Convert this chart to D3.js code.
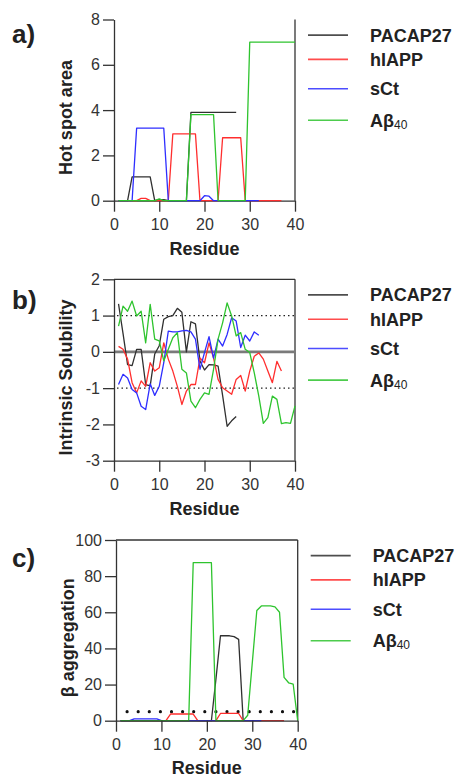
<!DOCTYPE html>
<html>
<head>
<meta charset="utf-8">
<script src="https://cdn.jsdelivr.net/npm/d3@7"></script>
<style>
body { margin: 0; background: #fff; }
svg { display: block; font-family: "Liberation Sans", Arial, sans-serif; }
.tick text { font-family: "Liberation Sans Narrow", "Liberation Sans", Arial, sans-serif; font-size: 16px; fill: #333; }
.tick line, .domain { stroke: #333; stroke-width: 1.3; }
</style>
</head>
<body>
<svg id="chart" width="461" height="777"></svg>
<script>
// series shared by all three panels
var seriesNames = ["PACAP27", "hIAPP", "sCt", "Aβ40"];
var seriesColors = ["#303030", "#ff2e2e", "#2e2eff", "#2ec42e"];

var xTicks = [0, 10, 20, 30, 40];

// a) hot spot area, residue 1..n
var hotPACAP = [0, 0, 0, 1.05, 1.05, 1.05, 1.05, 1.05, 0, 0.05, 0.05, 0, 0, 0, 0, 0,
  3.9, 3.9, 3.9, 3.9, 3.9, 3.9, 3.9, 3.9, 3.9, 3.9, 3.9];
var hotIAPP = [0, 0, 0, 0, 0, 0.1, 0.1, 0, 0, 0, 0, 0, 2.95, 2.95, 2.95, 2.95, 2.95, 2.95,
  0, 0, 0, 0, 0, 2.78, 2.78, 2.78, 2.78, 2.78, 0, 0, 0, 0, 0, 0, 0, 0, 0];
var hotSCT = [0, 0, 0, 0, 3.2, 3.2, 3.2, 3.2, 3.2, 3.2, 3.2, 0, 0, 0, 0, 0, 0, 0, 0,
  0.22, 0.2, 0, 0, 0, 0, 0, 0, 0, 0, 0, 0, 0];
var hotABeta = [0, 0, 0, 0, 0, 0, 0, 0, 0, 0.08, 0, 0, 0, 0, 0, 0, 3.8, 3.8, 3.8, 3.8, 3.8, 3.8,
  0, 0, 0, 0, 0, 0, 0, 7, 7, 7, 7, 7, 7, 7, 7, 7, 7, 7];
var hotTicks = [0, 2, 4, 6, 8];

// b) intrinsic solubility
var solPACAP = [1.32, 0.5, -0.35, -0.38, 0.07, 0.07, -0.9, -0.94, -0.06, 0.17,
  0.9, 0.97, 1.0, 1.2, 1.09, 0.0, 0.83, 0.77, -0.25, -0.5,
  -0.35, -0.36, -0.39, -1.2, -2.05, -1.9, -1.78];
var solIAPP = [0.15, 0.07, -0.2, -0.85, -1.13, -0.8, -0.95, -0.3, -0.53, -0.44,
  0.25, -0.2, -0.53, -0.95, -1.45, -1.08, -0.9, -0.9, -0.17, -0.3,
  0.25, -0.17, -0.76, -0.99, -1.08, -1.17, -0.76, -0.65, -1.08, -0.53,
  -0.12, -0.03, -0.2, -0.53, -0.85, -0.26, -0.53];
var solSCT = [-0.9, -0.62, -0.72, -1.04, -1.13, -1.5, -1.59, -0.88, -1.2, -0.95,
  -0.3, 0.57, 0.55, 0.55, 0.58, 0.59, 0.55, 0.35, -0.48, -0.02,
  0.42, -0.17, 0.35, 0.16, 0.48, 0.94, 0.85, 0.12, 0.46, 0.3,
  0.55, 0.46];
var solABeta = [0.71, 1.26, 1.12, 1.4, 0.99, 1.12, 0.25, 1.31, 0.35, 0.3,
  -0.25, 0.07, 0.39, 0.53, -0.48, -0.58, -1.36, -1.54, -1.31, -1.13,
  -1.17, -0.48, 0.35, 0.8, 1.35, 0.99, 0.44, 0.53, 0.07, -0.02,
  -0.58, -1.22, -1.97, -1.81, -1.22, -1.31, -1.98, -1.95, -1.97, -1.49];
var solTicks = [-3, -2, -1, 0, 1, 2];
var solLimits = [-1, 1];

// c) beta aggregation
var aggPACAP = [0, 0, 0, 0, 0, 0, 0, 0, 0, 0, 0, 0, 0, 0, 0, 0, 0, 0, 0, 0, 0,
  23, 47, 47, 47, 46.5, 45, 0];
var aggIAPP = [0, 0, 0, 0, 0, 0, 0, 0, 0, 0, 0, 3.7, 3.7, 3.7, 3.7, 3.7, 3.7,
  0, 0, 0, 0, 0, 4, 4, 4, 4, 4, 0, 0, 0, 0, 0, 0, 0, 0, 0, 0];
var aggSCT = [0, 0, 0, 1, 1, 1, 1, 1, 1, 0, 0, 0, 0, 0, 0, 0,
  0, 0, 0, 0, 0, 0, 0, 0, 0, 0, 0, 0, 0, 0, 0, 0];
var aggABeta = [0, 0, 0, 0, 0, 0, 0, 0, 0, 0, 0, 0, 0, 0, 0, 0,
  87.5, 87.5, 87.5, 87.5, 87.5, 0, 0, 0, 0, 0, 0, 0,
  3, 32, 61, 63.5, 63.5, 63.5, 63, 60, 24, 21, 20.3, 0];
var aggTicks = [0, 20, 40, 60, 80, 100];
var aggThreshold = 5;

var svg = d3.select("#chart");
var legendOffsets = [15.6, 39.9, 69.2, 100.8];

function drawPanel(p) {
  var x = d3.scaleLinear().domain([0, 40]).range([p.left, p.right]);
  var y = d3.scaleLinear().domain(p.yDomain).range([p.bottom, p.top]);
  var g = svg.append("g");

  // frame
  if (p.frameTop) {
    g.append("line").attr("x1", x(0)).attr("x2", x(40))
      .attr("y1", y(p.yDomain[1])).attr("y2", y(p.yDomain[1]))
      .attr("stroke", "#333").attr("stroke-width", 1.3);
  }
  g.append("line").attr("x1", x(40)).attr("x2", x(40))
    .attr("y1", y(p.yDomain[0])).attr("y2", y(p.yDomain[1]))
    .attr("stroke", "#333").attr("stroke-width", 1.3);

  if (p.extras) p.extras(g, x, y);

  function axes() {
    g.append("g")
      .attr("transform", "translate(0," + p.bottom + ")")
      .call(d3.axisBottom(x).tickValues(xTicks).tickSize(11).tickPadding(7).tickSizeOuter(0));
    g.append("g")
      .attr("transform", "translate(" + p.left + ",0)")
      .call(d3.axisLeft(y).tickValues(p.yTicks).tickSize(11).tickPadding(3)
        .tickSizeOuter(0).tickFormat(function(d) { return String(d); }));
  }
  if (!p.axesOnTop) axes();

  var line = d3.line()
    .x(function(d, i) { return x(i + 1); })
    .y(function(d) { return y(d); });
  p.data.forEach(function(arr, k) {
    g.append("path").datum(arr)
      .attr("d", line)
      .attr("fill", "none")
      .attr("stroke", seriesColors[k])
      .attr("stroke-width", 1.3)
      .attr("stroke-linejoin", "round");
  });
  if (p.axesOnTop) axes();

  // panel letter
  g.append("text").attr("x", 12).attr("y", p.letterY)
    .attr("font-size", 26).attr("font-weight", "bold").attr("fill", "#222")
    .text(p.letter);

  // axis titles
  g.append("text")
    .attr("transform", "translate(" + (p.left - 42) + "," + ((p.top + p.bottom) / 2 + 7.5) + ") rotate(-90)")
    .attr("text-anchor", "middle").attr("font-size", 18).attr("font-weight", "bold").attr("fill", "#222")
    .text(p.yTitle);
  g.append("text")
    .attr("x", (p.left + p.right) / 2).attr("y", p.bottom + p.titleGap)
    .attr("text-anchor", "middle").attr("font-size", 18).attr("font-weight", "bold").attr("fill", "#222")
    .text("Residue");

  // legend
  seriesNames.forEach(function(name, k) {
    var ly = p.top + legendOffsets[k];
    g.append("line")
      .attr("x1", p.right + 13).attr("x2", p.right + 53)
      .attr("y1", ly).attr("y2", ly)
      .attr("stroke", seriesColors[k]).attr("stroke-width", 1.6).attr("opacity", 0.85);
    var t = g.append("text")
      .attr("x", p.right + 75).attr("y", ly).attr("dy", "0.36em")
      .attr("font-size", 18).attr("font-weight", "bold").attr("fill", "#222");
    var m = name.match(/^(\D+)(\d+)$/);
    if (m && name.indexOf("β") >= 0) {
      t.append("tspan").text(m[1]);
      t.append("tspan").attr("font-size", 12).attr("font-weight", "normal").attr("dy", 2).text(m[2]);
    } else {
      t.text(name);
    }
  });
}

drawPanel({
  left: 114, right: 295, top: 19.5, bottom: 200.7,
  yDomain: [0, 8], yTicks: hotTicks, frameTop: false, titleGap: 54.3,
  data: [hotPACAP, hotIAPP, hotSCT, hotABeta],
  letter: "a)", letterY: 42.7, yTitle: "Hot spot area"
});

drawPanel({
  left: 114, right: 295, top: 279.3, bottom: 460.7,
  yDomain: [-3, 2], yTicks: solTicks, frameTop: true, titleGap: 54.3,
  data: [solPACAP, solIAPP, solSCT, solABeta],
  letter: "b)", letterY: 309, yTitle: "Intrinsic Solubility",
  extras: function(g, x, y) {
    g.append("line").attr("x1", x(0)).attr("x2", x(40))
      .attr("y1", y(0)).attr("y2", y(0))
      .attr("stroke", "#7a7a7a").attr("stroke-width", 2.8);
    solLimits.forEach(function(v) {
      g.append("line").attr("x1", x(0) + 3).attr("x2", x(40))
        .attr("y1", y(v)).attr("y2", y(v))
        .attr("stroke", "#222").attr("stroke-width", 1.4)
        .attr("stroke-dasharray", "1.5,3");
    });
  }
});

drawPanel({
  left: 116, right: 297.7, top: 540, bottom: 720.7,
  yDomain: [0, 100], yTicks: aggTicks, frameTop: true, titleGap: 53, axesOnTop: true,
  data: [aggPACAP, aggIAPP, aggSCT, aggABeta],
  letter: "c)", letterY: 566.7, yTitle: "β aggregation",
  extras: function(g, x, y) {
    g.append("line").attr("x1", x(0) + 11.1).attr("x2", x(40))
      .attr("y1", y(aggThreshold)).attr("y2", y(aggThreshold))
      .attr("stroke", "#111").attr("stroke-width", 3.2)
      .attr("stroke-linecap", "round")
      .attr("stroke-dasharray", "0,11.1");
  }
});
</script>
</body>
</html>
